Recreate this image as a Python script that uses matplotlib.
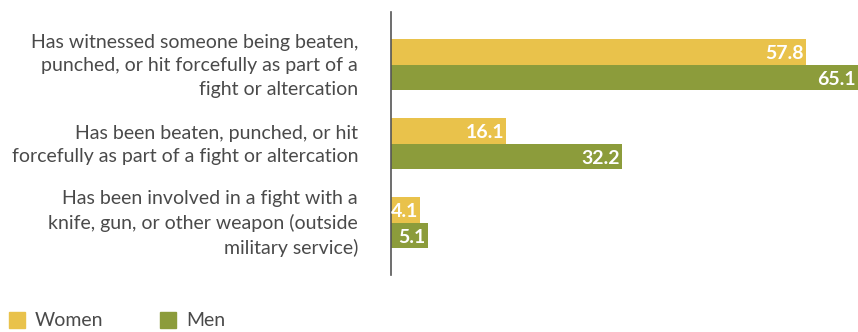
import matplotlib.pyplot as plt
from matplotlib.patches import Rectangle

categories = [
    "Has witnessed someone being beaten,\npunched, or hit forcefully as part of a\nfight or altercation",
    "Has been beaten, punched, or hit\nforcefully as part of a fight or altercation",
    "Has been involved in a fight with a\nknife, gun, or other weapon (outside\nmilitary service)",
]
women = [57.8, 16.1, 4.1]
men = [65.1, 32.2, 5.1]

women_color = '#E9C24B'
men_color = '#8C9C3B'
text_color = '#4a4a4a'

plt.rcParams['font.family'] = ['Lato', 'DejaVu Sans']

fig = plt.figure(figsize=(8.58, 3.32), dpi=100)
ax = fig.add_axes([391 / 858, 1 - 275 / 332, 1 - 391 / 858, 263 / 332])

h = 0.323
for i, (w, m) in enumerate(zip(women, men)):
    ax.barh(i - h / 2, w, height=h, color=women_color)
    ax.barh(i + h / 2, m, height=h, color=men_color)
    ax.text(w - 0.3, i - h / 2 + 0.02, f"{w:.1f}", color='white', fontsize=14,
            fontweight='bold', ha='right', va='center')
    ax.text(m - 0.3, i + h / 2 + 0.02, f"{m:.1f}", color='white', fontsize=14,
            fontweight='bold', ha='right', va='center')
    ax.text(-4.6, i + 0.01, categories[i], color=text_color, fontsize=14,
            ha='right', va='center', linespacing=1.45)

ax.set_xlim(0, 65.1)
ax.set_ylim(2.66, -0.67)
ax.set_xticks([])
ax.set_yticks([])
for s in ['top', 'right', 'bottom']:
    ax.spines[s].set_visible(False)
ax.spines['left'].set_color('#555555')
ax.spines['left'].set_linewidth(1.2)

# legend along the bottom edge
for x0, label, color in [(9, "Women", women_color), (160, "Men", men_color)]:
    fig.patches.append(Rectangle((x0 / 858, 1 - 328 / 332), 16 / 858, 16 / 332,
                                 transform=fig.transFigure, color=color))
    fig.text((x0 + 26) / 858, 1 - 320 / 332, label, color=text_color,
             fontsize=14, va='center', ha='left')

fig.savefig('out.png', dpi=100)
